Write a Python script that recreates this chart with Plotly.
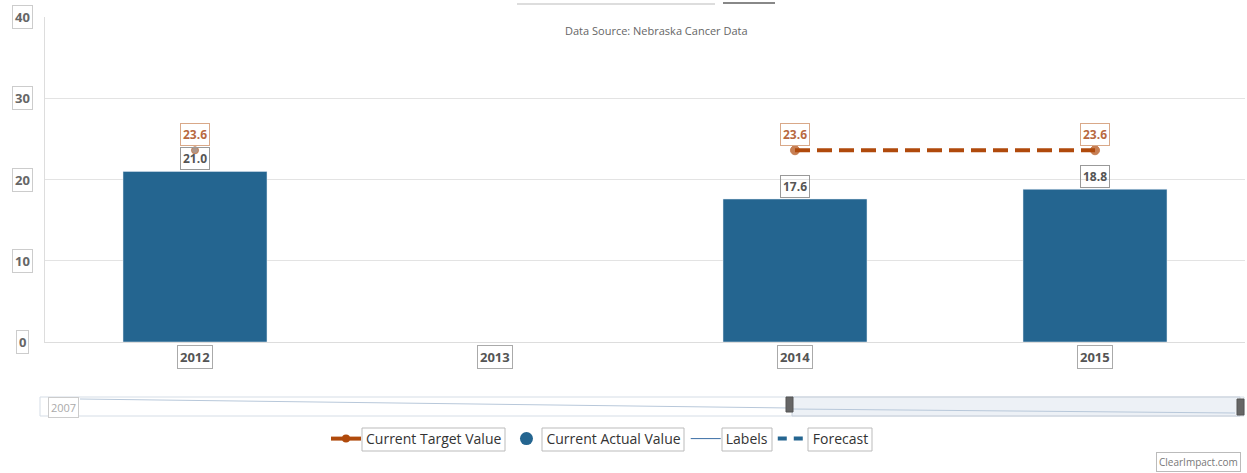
import plotly.graph_objects as go

years = ["2012", "2013", "2014", "2015"]
actual = [21.0, None, 17.6, 18.8]
target = [23.6, None, 23.6, 23.6]
y_ticks = [0, 10, 20, 30, 40]
nav_start_label = "2007"

BAR = "#246590"
TGT = "#B04A0C"
TGT_TXT = "#B8693F"
FONT = "Open Sans, DejaVu Sans, sans-serif"

W, H = 1247, 473
PL, PT, PB, PR = 45, 17, 342, 1245   # plot area in page pixels


def py(pix):
    return (PB - pix) / float(PB - PT)


def px(pix):
    return (pix - PL) / float(PR - PL)


fig = go.Figure()

fig.add_trace(go.Bar(
    x=years, y=actual, marker_color=BAR, width=0.48,
    name="Current Actual Value", showlegend=False, hoverinfo="x+y",
))
fig.add_trace(go.Scatter(
    x=years, y=target, mode="lines+markers", name="Current Target Value",
    line=dict(color=TGT, width=4, dash="15px,7px"),
    marker=dict(size=[7, 9, 9, 9], color=["#8C6C5C", TGT, TGT, TGT]),
    connectgaps=False, showlegend=False,
))
# legend entries
fig.add_trace(go.Scatter(x=[None], y=[None], mode="lines+markers", name="Current Target Value",
                         line=dict(color=TGT, width=4), marker=dict(size=8, color=TGT)))
fig.add_trace(go.Scatter(x=[None], y=[None], mode="markers", name="Current Actual Value",
                         marker=dict(size=13, color=BAR, symbol="circle")))
fig.add_trace(go.Scatter(x=[None], y=[None], mode="lines", name="Labels",
                         line=dict(color="#3A6EA5", width=1)))
fig.add_trace(go.Scatter(x=[None], y=[None], mode="lines", name="Forecast",
                         line=dict(color=BAR, width=4, dash="9px,7px")))

ann = []
# value labels
for i, (a, t) in enumerate(zip(actual, target)):
    if a is not None:
        ann.append(dict(x=i, y=a, xref="x", yref="y", text=f"<b>{a:.1f}</b>", showarrow=False,
                        yanchor="middle", yshift=13, font=dict(size=12, color="#555", family=FONT),
                        bordercolor="#999", borderwidth=1, borderpad=2,
                        bgcolor="rgba(255,255,255,0)"))
    if t is not None:
        ann.append(dict(x=i, y=t, xref="x", yref="y", text=f"<b>{t:.1f}</b>", showarrow=False,
                        yanchor="middle", yshift=16, font=dict(size=12, color=TGT_TXT, family=FONT),
                        bordercolor="#D9A888", borderwidth=1, borderpad=2,
                        bgcolor="rgba(255,255,255,0)"))
# x tick labels in boxes
for i, yr in enumerate(years):
    ann.append(dict(x=i, y=0, xref="x", yref="paper", text=f"<b>{yr}</b>", showarrow=False,
                    yanchor="middle", yshift=-15, font=dict(size=13, color="#555", family=FONT),
                    bordercolor="#aaa", borderwidth=1, borderpad=2, bgcolor="white"))
# y tick labels in boxes
for v in y_ticks:
    ann.append(dict(x=0, y=v, xref="paper", yref="y", text=f"<b>{v}</b>", showarrow=False,
                    xanchor="center", yanchor="middle", xshift=-23,
                    font=dict(size=13, color="#666", family=FONT),
                    bordercolor="#ccc", borderwidth=1, borderpad=2, bgcolor="white"))
ann.append(dict(x=px(656), y=py(30), xref="paper", yref="paper",
                text="Data Source: Nebraska Cancer Data", showarrow=False,
                xanchor="center", yanchor="middle", font=dict(size=11, color="#666", family=FONT)))
ann.append(dict(x=px(63), y=py(407), xref="paper", yref="paper", text=nav_start_label,
                showarrow=False, xanchor="center", yanchor="middle",
                font=dict(size=11, color="#aaa", family=FONT),
                bordercolor="#ccc", borderwidth=1, borderpad=2, bgcolor="white"))
ann.append(dict(x=px(1241), y=py(462), xref="paper", yref="paper", text="ClearImpact.com",
                showarrow=False, xanchor="right", yanchor="middle",
                font=dict(size=10, color="#777", family=FONT),
                bordercolor="#bbb", borderwidth=1, borderpad=2, bgcolor="white"))

shapes = [
    # title remnants
    dict(type="line", xref="paper", yref="paper", x0=px(517), x1=px(715), y0=py(4), y1=py(4),
         line=dict(color="#bbb", width=1)),
    dict(type="line", xref="paper", yref="paper", x0=px(723), x1=px(775), y0=py(3), y1=py(3),
         line=dict(color="#888", width=2)),
    # navigator
    dict(type="rect", xref="paper", yref="paper", x0=px(40), x1=px(1244), y0=py(416), y1=py(397),
         line=dict(color="#d5dde6", width=1), fillcolor="rgba(0,0,0,0)"),
    dict(type="rect", xref="paper", yref="paper", x0=px(792), x1=px(1240), y0=py(416), y1=py(397),
         line=dict(color="#c8d0da", width=1), fillcolor="rgba(225,232,240,0.6)"),
    dict(type="line", xref="paper", yref="paper", x0=px(80), x1=px(790), y0=py(399), y1=py(408),
         line=dict(color="#b8c8da", width=1)),
    dict(type="line", xref="paper", yref="paper", x0=px(792), x1=px(1235), y0=py(409), y1=py(413),
         line=dict(color="#b8c8da", width=1)),
    dict(type="rect", xref="paper", yref="paper", x0=px(786), x1=px(793), y0=py(412), y1=py(397),
         line=dict(color="#555", width=1), fillcolor="#666"),
    dict(type="rect", xref="paper", yref="paper", x0=px(1237), x1=px(1244), y0=py(415), y1=py(399),
         line=dict(color="#555", width=1), fillcolor="#666"),
]
# boxes around legend labels
for x0, x1 in [(362, 505), (542, 684), (722, 772), (808, 872)]:
    shapes.append(dict(type="rect", xref="paper", yref="paper", x0=px(x0), x1=px(x1),
                       y0=py(451), y1=py(428), line=dict(color="#bbb", width=1),
                       fillcolor="rgba(0,0,0,0)", layer="above"))

fig.update_layout(
    width=W, height=H,
    margin=dict(l=PL, r=W - PR, t=PT, b=H - PB, autoexpand=False),
    paper_bgcolor="white", plot_bgcolor="white",
    font=dict(family=FONT, color="#555"),
    xaxis=dict(type="category", categoryorder="array", categoryarray=years,
               range=[-0.5, 3.5], showticklabels=False, showgrid=False,
               showline=True, linecolor="#ddd", linewidth=1, ticks=""),
    yaxis=dict(range=[0, 40], tickvals=y_ticks, showticklabels=False, showgrid=True,
               gridcolor="#e3e3e3", gridwidth=1, zeroline=False,
               showline=True, linecolor="#ddd", linewidth=1),
    legend=dict(orientation="h", x=px(600), xanchor="center", y=py(439), yanchor="middle",
                font=dict(size=14, color="#333", family=FONT), bgcolor="rgba(0,0,0,0)",
                traceorder="normal", itemwidth=30),
    annotations=ann,
    shapes=shapes,
)

fig.write_html("out.html", config={"displayModeBar": False},
               post_script="document.body.style.margin='0';")
